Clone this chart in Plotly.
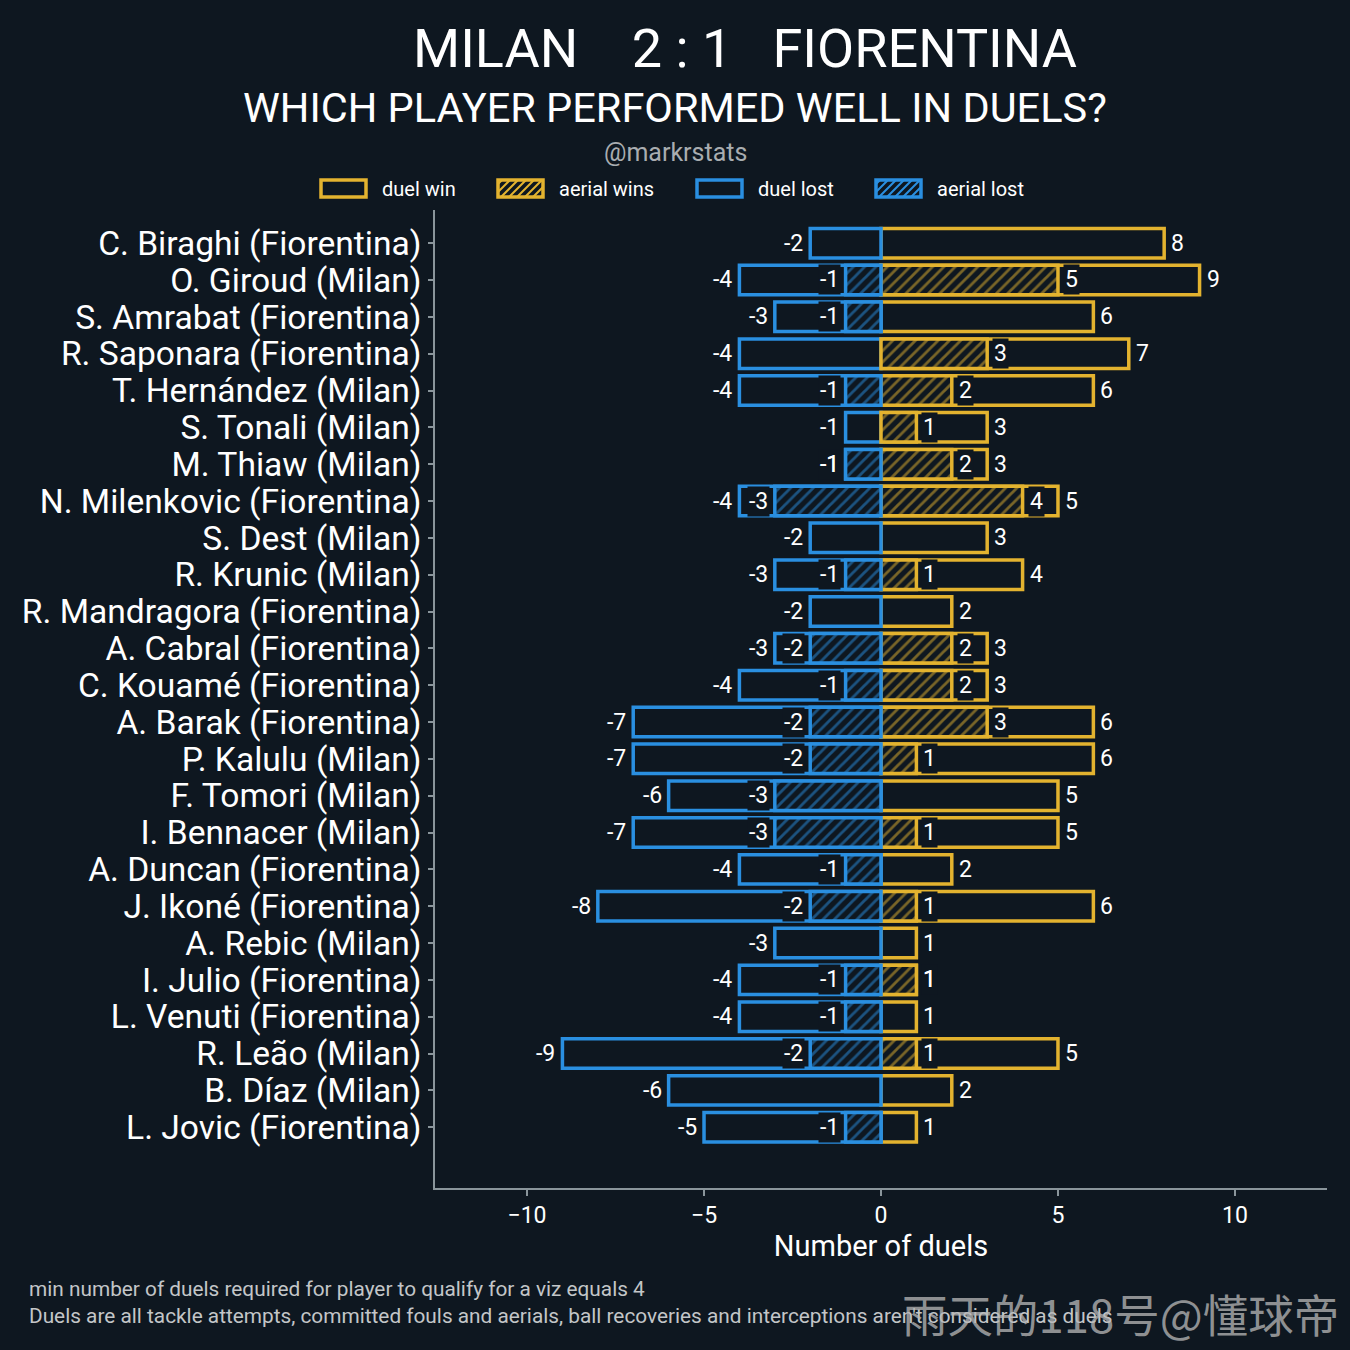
import plotly.graph_objects as go

# --- data ---
players = [
    "C. Biraghi (Fiorentina)", "O. Giroud (Milan)", "S. Amrabat (Fiorentina)",
    "R. Saponara (Fiorentina)", "T. Hernández (Milan)", "S. Tonali (Milan)",
    "M. Thiaw (Milan)", "N. Milenkovic (Fiorentina)", "S. Dest (Milan)",
    "R. Krunic (Milan)", "R. Mandragora (Fiorentina)", "A. Cabral (Fiorentina)",
    "C. Kouamé (Fiorentina)", "A. Barak (Fiorentina)", "P. Kalulu (Milan)",
    "F. Tomori (Milan)", "I. Bennacer (Milan)", "A. Duncan (Fiorentina)",
    "J. Ikoné (Fiorentina)", "A. Rebic (Milan)", "I. Julio (Fiorentina)",
    "L. Venuti (Fiorentina)", "R. Leão (Milan)", "B. Díaz (Milan)",
    "L. Jovic (Fiorentina)",
]
duel_win = [8, 9, 6, 7, 6, 3, 3, 5, 3, 4, 2, 3, 3, 6, 6, 5, 5, 2, 6, 1, 1, 1, 5, 2, 1]
aerial_win = [0, 5, 0, 3, 2, 1, 2, 4, 0, 1, 0, 2, 2, 3, 1, 0, 1, 0, 1, 0, 1, 0, 1, 0, 0]
duel_lost = [-2, -4, -3, -4, -4, -1, -1, -4, -2, -3, -2, -3, -4, -7, -7, -6, -7, -4, -8, -3, -4, -4, -9, -6, -5]
aerial_lost = [0, -1, -1, 0, -1, 0, -1, -3, 0, -1, 0, -2, -1, -2, -2, -3, -3, -1, -2, 0, -1, -1, -2, 0, -1]

legend_names = ["duel win", "aerial wins", "duel lost", "aerial lost"]

BG = "#0e1720"
GOLD = "#e3b32f"
BLUE = "#2a8fe0"
AXIS = "#8a959b"
FONT = "Roboto"

# plot area in pixels (used to place the free text)
L, R, T, B = 435, 23, 210, 162
W = H = 1350
PW, PH = W - L - R, H - T - B


def px(x):
    return (x - L) / PW


def py(y):
    return (H - B - y) / PH


def nz(vals):
    return [v if v != 0 else None for v in vals]


fig = go.Figure()

def add_bar(name, vals, color, hatched):
    pattern = dict(shape="/", fgcolor=color, bgcolor=BG, size=8, solidity=0.35) if hatched else None
    fig.add_trace(go.Bar(
        y=players, x=nz(vals), orientation="h", name=name, width=0.8,
        marker=dict(color=BG, line=dict(color=color, width=3.5), pattern=pattern),
        hoverinfo="x+y", showlegend=False,
    ))

add_bar("duel win", duel_win, GOLD, False)
add_bar("duel lost", duel_lost, BLUE, False)
add_bar("aerial wins", aerial_win, GOLD, True)
add_bar("aerial lost", aerial_lost, BLUE, True)

annotations = []

def labels(vals, boxed):
    for p, v in zip(players, vals):
        if v == 0:
            continue
        annotations.append(dict(
            x=v, y=p, xref="x", yref="y", text=str(v), showarrow=False,
            xanchor="left" if v > 0 else "right", yanchor="middle",
            xshift=5 if v > 0 else -5,
            font=dict(family=FONT, size=23, color="white"),
            bgcolor=BG if boxed else None, borderpad=1,
        ))

labels(aerial_win, True)
labels(aerial_lost, True)
labels(duel_win, False)
labels(duel_lost, False)

# --- custom legend: wide swatches like the original ---
shapes = []
sw_left = [321, 498, 697, 876]
sw_color = [GOLD, GOLD, BLUE, BLUE]
sw_hatch = [False, True, False, True]
y0, y1 = 180, 197
for name, x0, col, hatch in zip(legend_names, sw_left, sw_color, sw_hatch):
    x1 = x0 + 45
    shapes.append(dict(type="rect", xref="paper", yref="paper",
                       x0=px(x0), x1=px(x1), y0=py(y1), y1=py(y0),
                       line=dict(color=col, width=3.5), fillcolor=BG))
    if hatch:
        path = ""
        c = x0 + y0 + 4
        while c < x1 + y1:
            xa, xb = max(x0, c - y1), min(x1, c - y0)
            if xa < xb:
                path += f"M{px(xa)},{py(c - xa)} L{px(xb)},{py(c - xb)} "
            c += 8
        shapes.append(dict(type="path", xref="paper", yref="paper", path=path,
                           line=dict(color=col, width=2)))
    annotations.append(dict(x=px(x1 + 14), y=py(189), xref="paper", yref="paper",
                            text=name, showarrow=False, xanchor="left", yanchor="middle",
                            font=dict(family=FONT, size=20, color="white")))

annotations += [
    dict(x=px(745), y=py(48), xref="paper", yref="paper", showarrow=False,
         text="MILAN\u00a0\u00a0\u00a0 2 : 1 \u00a0\u00a0FIORENTINA",
         font=dict(family=FONT, size=54, color="white"), xanchor="center", yanchor="middle"),
    dict(x=px(675), y=py(108), xref="paper", yref="paper", showarrow=False,
         text="WHICH PLAYER PERFORMED WELL IN DUELS?",
         font=dict(family=FONT, size=41.5, color="white"), xanchor="center", yanchor="middle"),
    dict(x=px(675), y=py(153), xref="paper", yref="paper", showarrow=False,
         text="@markrstats",
         font=dict(family=FONT, size=25, color="#a9adb0"), xanchor="center", yanchor="middle"),
    dict(x=px(27), y=py(1289), xref="paper", yref="paper", showarrow=False,
         text="min number of duels required for player to qualify for a viz equals 4",
         font=dict(family=FONT, size=20.8, color="#c3c6c8"), xanchor="left", yanchor="middle"),
    dict(x=px(27), y=py(1316), xref="paper", yref="paper", showarrow=False,
         text="Duels are all tackle attempts, committed fouls and aerials, ball recoveries and interceptions aren't considered as duels",
         font=dict(family=FONT, size=20.8, color="#c3c6c8"), xanchor="left", yanchor="middle"),
    dict(x=px(1120), y=py(1313), xref="paper", yref="paper", showarrow=False,
         text="雨天的118号@懂球帝",
         font=dict(family="Noto Sans CJK SC", size=45.5, color="rgba(185,185,185,0.75)"),
         xanchor="center", yanchor="middle"),
]

fig.update_layout(
    width=W, height=H, autosize=False,
    margin=dict(l=L, r=R, t=T, b=B, pad=0),
    paper_bgcolor=BG, plot_bgcolor=BG,
    font=dict(family=FONT, color="white"),
    barmode="overlay",
    showlegend=False,
    annotations=annotations,
    shapes=shapes,
    xaxis=dict(
        range=[-12.6, 12.6], tickvals=[-10, -5, 0, 5, 10],
        showgrid=False, zeroline=False, showline=True, linecolor=AXIS, linewidth=1.5,
        ticks="outside", ticklen=6, tickcolor=AXIS, tickwidth=1.5,
        tickfont=dict(family=FONT, size=23, color="white"),
        title=dict(text="Number of duels", font=dict(family=FONT, size=29, color="white"), standoff=6),
    ),
    yaxis=dict(
        categoryorder="array", categoryarray=players, range=[25.65, -0.9],
        tickmode="array", tickvals=players, ticktext=players,
        showgrid=False, zeroline=False, showline=True, linecolor=AXIS, linewidth=1.5,
        ticks="outside", ticklen=5, tickcolor=AXIS, tickwidth=1.5,
        tickfont=dict(family=FONT, size=33.6, color="white"),
    ),
)

fig.write_html(
    "out.html",
    config={"displayModeBar": False},
    post_script="document.body.style.margin='0';document.body.style.background='%s';" % BG,
)
